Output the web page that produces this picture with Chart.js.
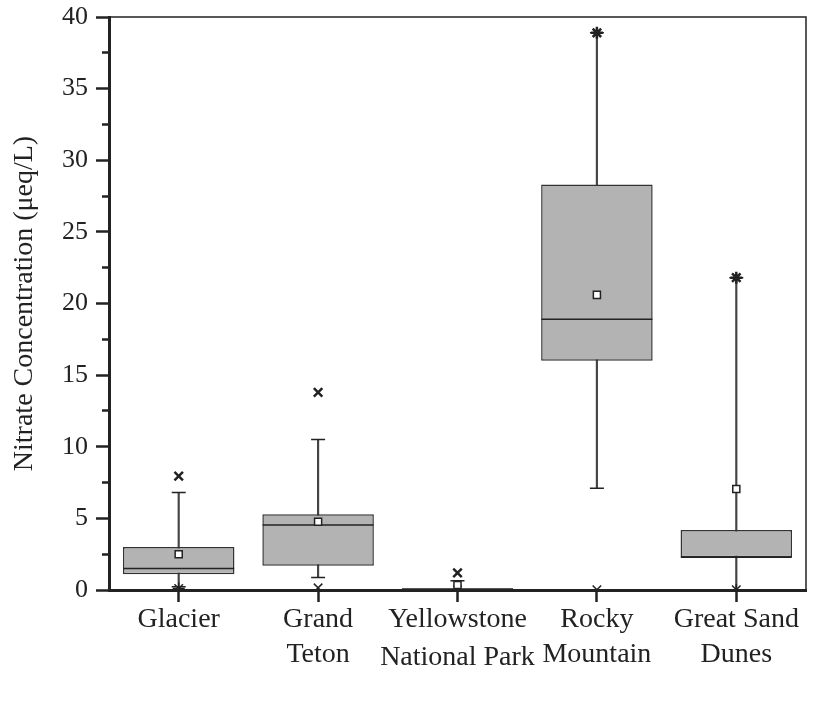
<!DOCTYPE html>
<html>
<head>
<meta charset="utf-8">
<script src="https://cdn.jsdelivr.net/npm/chart.js@4/dist/chart.umd.min.js"></script>
<style>
  body { margin: 0; background: #fff; }
  #wrap { width: 836px; height: 705px; }
</style>
</head>
<body>
<div id="wrap"><canvas id="boxChart" width="836" height="705"></canvas></div>
<script>
// box plot values (µeq/L)
const parks = ['Glacier', ['Grand', 'Teton'], 'Yellowstone', ['Rocky', 'Mountain'], ['Great Sand', 'Dunes']];
const q1 = [1.1, 1.7, 0, 16.0, 2.28];
const q3 = [3.0, 5.28, 0.12, 28.3, 4.19];
const median = [1.5, 4.54, 0.06, 18.9, 2.28];
const mean = [2.5, 4.77, 0.35, 20.6, 7.05];
const whiskerLow = [0.22, 0.88, 0, 7.1, 0];
const whiskerHigh = [6.8, 10.5, 0.65, 38.9, 21.8];
const maxPoint = [7.95, 13.8, 1.2, 38.9, 21.8];
const minPoint = [0.1, 0.15, 0.02, 0.02, 0.02];
const yMin = 0, yMax = 40, yStep = 2.5;

const ink = '#222';
const fontFamily = '"Liberation Serif", "Times New Roman", serif';

// frame on top and right of the plot area
const framePlugin = {
    id: 'frame',
    afterDraw(chart) {
        const { ctx, chartArea: a } = chart;
        ctx.save();
        ctx.strokeStyle = ink;
        ctx.lineWidth = 1.5;
        ctx.beginPath();
        ctx.moveTo(a.left, a.top);
        ctx.lineTo(a.right, a.top);
        ctx.lineTo(a.right, a.bottom);
        ctx.stroke();
        ctx.restore();
    }
};

const ctx = document.getElementById('boxChart').getContext('2d');
new Chart(ctx, {
    type: 'bar',
    data: {
        labels: parks,
        datasets: [
            {
                type: 'line', label: 'median', data: median, showLine: false,
                pointStyle: 'line', pointRadius: 55.5, pointBorderWidth: 1.5,
                pointBorderColor: ink, order: 1
            },
            {
                type: 'line', label: 'mean', data: mean, showLine: false,
                pointStyle: 'rect', pointRadius: 5, pointBorderWidth: 1.5,
                pointBackgroundColor: '#fff', pointBorderColor: ink, order: 0
            },
            {
                type: 'line', label: 'capLow', data: whiskerLow, showLine: false,
                pointStyle: 'line', pointRadius: 7, pointBorderWidth: 1.5,
                pointBorderColor: ink, order: 1
            },
            {
                type: 'line', label: 'capHigh', data: whiskerHigh, showLine: false,
                pointStyle: 'line', pointRadius: 7, pointBorderWidth: 1.5,
                pointBorderColor: ink, order: 1
            },
            {
                type: 'line', label: 'max', data: maxPoint, showLine: false,
                pointStyle: ['crossRot', 'crossRot', 'crossRot', 'star', 'star'],
                pointRadius: 6, pointBorderWidth: 2.5,
                pointBorderColor: ink, order: 0
            },
            {
                type: 'line', label: 'min', data: minPoint, showLine: false,
                pointStyle: ['star', 'crossRot', 'crossRot', 'crossRot', 'star'],
                pointRadius: 6, pointBorderWidth: 1.5,
                pointBorderColor: ink, order: 0
            },
            {
                label: 'box', data: q1.map((v, i) => [v, q3[i]]),
                backgroundColor: '#b3b3b3', borderColor: '#333', borderWidth: 1.5,
                borderSkipped: false, barPercentage: 1, categoryPercentage: 0.8,
                grouped: false, order: 2
            },
            {
                label: 'whisker', data: whiskerLow.map((v, i) => [v, whiskerHigh[i]]),
                backgroundColor: '#444', borderWidth: 0, barThickness: 1.5,
                grouped: false, order: 3
            }
        ]
    },
    options: {
        responsive: false,
        animation: false,
        events: [],
        layout: { autoPadding: false, padding: { left: 0, top: 17, right: 30, bottom: 0 } },
        plugins: {
            legend: { display: false },
            tooltip: { enabled: false }
        },
        scales: {
            x: {
                afterFit: s => { s.height = 115; s.paddingLeft = 0; s.paddingRight = 0; },
                grid: {
                    offset: false, drawOnChartArea: false,
                    tickLength: 12, tickWidth: 2.5, tickColor: ink
                },
                border: { color: ink, width: 3 },
                ticks: {
                    color: ink, padding: 0, maxRotation: 0, autoSkip: false,
                    font: { family: fontFamily, size: 28, lineHeight: 1.25 }
                },
                title: {
                    display: true, text: 'National Park', color: ink,
                    font: { family: fontFamily, size: 28 },
                    padding: { top: 0, bottom: 31 }
                }
            },
            y: {
                min: yMin, max: yMax,
                afterFit: s => { s.width = 109; s.paddingTop = 0; s.paddingBottom = 0; },
                grid: {
                    drawOnChartArea: false, tickLength: 13, tickWidth: 2.5, tickColor: ink,
                    // minor ticks: skip the outer part so only a short stub touches the axis
                    tickBorderDash: c => (c.tick && c.tick.value % 5 !== 0) ? [0, 6, 8, 100] : []
                },
                border: { color: ink, width: 3 },
                ticks: {
                    stepSize: yStep, color: ink, padding: 8,
                    font: { family: fontFamily, size: 26 },
                    callback: v => (v % 5 === 0 ? v : '')
                },
                title: {
                    display: true, text: 'Nitrate Concentration (μeq/L)', color: ink,
                    font: { family: fontFamily, size: 28 },
                    padding: { top: 8, bottom: 0 }
                }
            }
        }
    },
    plugins: [framePlugin]
});
</script>
</body>
</html>
